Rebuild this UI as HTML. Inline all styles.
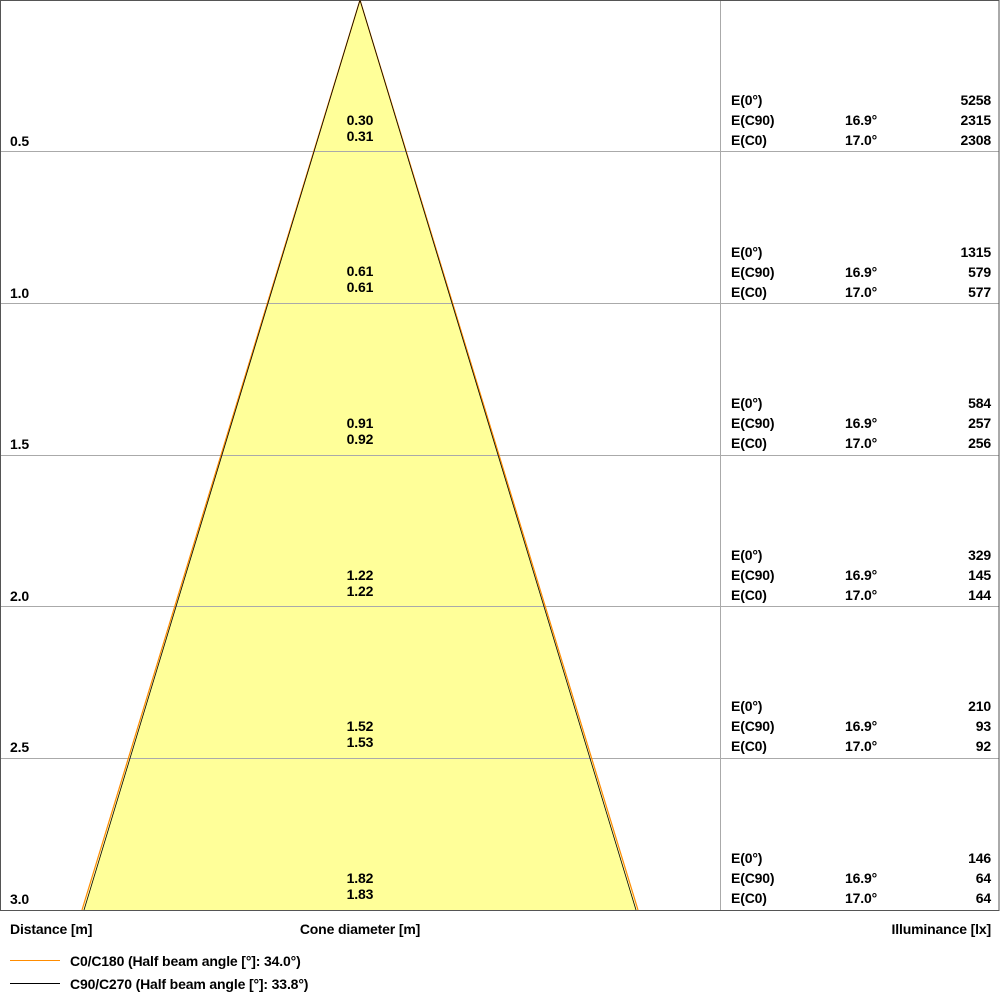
<!DOCTYPE html>
<html><head><meta charset="utf-8"><style>
body{margin:0;background:#fff}
text{font-family:"Liberation Sans",Arial,sans-serif;font-size:14px;font-weight:bold;fill:#000;letter-spacing:-0.15px}
</style></head><body>
<svg width="1000" height="1000" viewBox="0 0 1000 1000" xmlns="http://www.w3.org/2000/svg">
<polygon points="360,0 83,910 637,910" fill="#ffff99"/>
<g stroke="#aaa" stroke-width="1">
<line x1="0" y1="151.5" x2="999" y2="151.5"/>
<line x1="0" y1="303.5" x2="999" y2="303.5"/>
<line x1="0" y1="455.5" x2="999" y2="455.5"/>
<line x1="0" y1="606.5" x2="999" y2="606.5"/>
<line x1="0" y1="758.5" x2="999" y2="758.5"/>
<line x1="720.5" y1="0" x2="720.5" y2="910"/>
</g>
<rect x="0.5" y="0.5" width="998.5" height="910" fill="none" stroke="#555" stroke-width="1"/>
<line x1="360" y1="0" x2="82" y2="910" stroke="#ff8c00" stroke-width="1.2"/>
<line x1="360" y1="0" x2="638" y2="910" stroke="#ff8c00" stroke-width="1.2"/>
<line x1="360" y1="0" x2="84" y2="910" stroke="#000" stroke-width="0.8"/>
<line x1="360" y1="0" x2="636" y2="910" stroke="#000" stroke-width="0.8"/>
<text x="10" y="146">0.5</text>
<text x="10" y="298">1.0</text>
<text x="10" y="449">1.5</text>
<text x="10" y="601">2.0</text>
<text x="10" y="752">2.5</text>
<text x="10" y="904">3.0</text>
<g text-anchor="middle">
<text x="360" y="125">0.30</text><text x="360" y="141">0.31</text>
<text x="360" y="276">0.61</text><text x="360" y="292">0.61</text>
<text x="360" y="428">0.91</text><text x="360" y="444">0.92</text>
<text x="360" y="580">1.22</text><text x="360" y="596">1.22</text>
<text x="360" y="731">1.52</text><text x="360" y="747">1.53</text>
<text x="360" y="883">1.82</text><text x="360" y="899">1.83</text>
</g>
<g>
<text x="731" y="105">E(0°)</text><text x="731" y="125">E(C90)</text><text x="731" y="145">E(C0)</text>
<text x="731" y="257">E(0°)</text><text x="731" y="277">E(C90)</text><text x="731" y="297">E(C0)</text>
<text x="731" y="408">E(0°)</text><text x="731" y="428">E(C90)</text><text x="731" y="448">E(C0)</text>
<text x="731" y="560">E(0°)</text><text x="731" y="580">E(C90)</text><text x="731" y="600">E(C0)</text>
<text x="731" y="711">E(0°)</text><text x="731" y="731">E(C90)</text><text x="731" y="751">E(C0)</text>
<text x="731" y="863">E(0°)</text><text x="731" y="883">E(C90)</text><text x="731" y="903">E(C0)</text>
</g>
<g>
<text x="845" y="125">16.9°</text><text x="845" y="145">17.0°</text>
<text x="845" y="277">16.9°</text><text x="845" y="297">17.0°</text>
<text x="845" y="428">16.9°</text><text x="845" y="448">17.0°</text>
<text x="845" y="580">16.9°</text><text x="845" y="600">17.0°</text>
<text x="845" y="731">16.9°</text><text x="845" y="751">17.0°</text>
<text x="845" y="883">16.9°</text><text x="845" y="903">17.0°</text>
</g>
<g text-anchor="end">
<text x="991" y="105">5258</text><text x="991" y="125">2315</text><text x="991" y="145">2308</text>
<text x="991" y="257">1315</text><text x="991" y="277">579</text><text x="991" y="297">577</text>
<text x="991" y="408">584</text><text x="991" y="428">257</text><text x="991" y="448">256</text>
<text x="991" y="560">329</text><text x="991" y="580">145</text><text x="991" y="600">144</text>
<text x="991" y="711">210</text><text x="991" y="731">93</text><text x="991" y="751">92</text>
<text x="991" y="863">146</text><text x="991" y="883">64</text><text x="991" y="903">64</text>
</g>
<text x="10" y="934">Distance [m]</text>
<text x="360" y="934" text-anchor="middle">Cone diameter [m]</text>
<text x="991" y="934" text-anchor="end">Illuminance [lx]</text>
<line x1="10" y1="960.5" x2="60" y2="960.5" stroke="#ff8c00" stroke-width="1"/>
<line x1="10" y1="983.5" x2="60" y2="983.5" stroke="#000" stroke-width="1"/>
<text x="70" y="966">C0/C180 (Half beam angle [°]: 34.0°)</text>
<text x="70" y="989">C90/C270 (Half beam angle [°]: 33.8°)</text>
</svg>
</body></html>
